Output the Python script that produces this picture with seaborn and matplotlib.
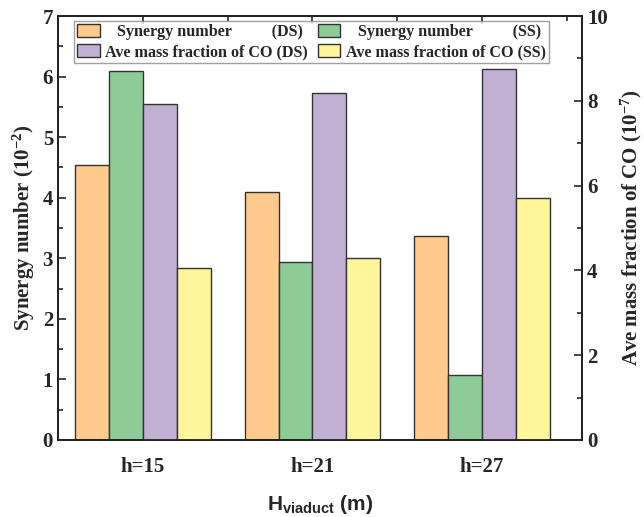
import pandas as pd
import matplotlib
matplotlib.use("Agg")
import matplotlib.pyplot as plt
import seaborn as sns
from matplotlib.ticker import MultipleLocator
from matplotlib.patches import Patch

# values
heights = ["h=15", "h=21", "h=27"]
synergy_ds = [4.54, 4.09, 3.37]
synergy_ss = [6.10, 2.94, 1.07]
co_ds = [7.93, 8.18, 8.75]
co_ss = [4.06, 4.29, 5.71]

labels = ["   Synergy number            (DS)", "   Synergy number            (SS)",
          "Ave mass fraction of CO (DS)", "Ave mass fraction of CO (SS)"]
colors = ["#FFCA8C", "#8DCB97", "#C2AFD4", "#FFF59B"]

syn = pd.DataFrame({
    "h": heights * 2,
    "value": synergy_ds + synergy_ss,
    "series": [labels[0]] * 3 + [labels[1]] * 3,
})
co = pd.DataFrame({
    "h": heights * 2,
    "value": co_ds + co_ss,
    "series": [labels[2]] * 3 + [labels[3]] * 3,
})

sns.set_style("white")
plt.rcParams["font.family"] = ["Liberation Serif", "DejaVu Serif"]
plt.rcParams["font.weight"] = "bold"
plt.rcParams["axes.labelweight"] = "bold"
plt.rcParams["mathtext.default"] = "regular"

fig = plt.figure(figsize=(6.44, 5.17), dpi=100)
ax = fig.add_axes([0.090, 0.149, 0.814, 0.820])
ax2 = ax.twinx()

pal = dict(zip(labels, colors))
sns.barplot(data=syn, x="h", y="value", hue="series", hue_order=labels,
            palette=pal, order=heights, width=0.8, ax=ax, saturation=1,
            edgecolor="#333333", linewidth=1.0, legend=False)
sns.barplot(data=co, x="h", y="value", hue="series", hue_order=labels,
            palette=pal, order=heights, width=0.8, ax=ax2, saturation=1,
            edgecolor="#333333", linewidth=1.0, legend=False)

ax.set_xlim(-0.5, 2.59)
ax.set_ylim(0, 7)
ax2.set_ylim(0, 10)
ax.yaxis.set_major_locator(MultipleLocator(1))
ax.yaxis.set_minor_locator(MultipleLocator(0.5))
ax2.yaxis.set_major_locator(MultipleLocator(2))
ax2.yaxis.set_minor_locator(MultipleLocator(1))
ax.xaxis.set_minor_locator(MultipleLocator(0.5))

ax.tick_params(axis="both", which="both", direction="in", top=True, labelsize=15)
ax.tick_params(which="major", length=6, width=1.2)
ax.tick_params(which="minor", length=3.5, width=1.2)
ax.tick_params(axis="x", which="major", pad=12)
ax2.tick_params(axis="y", which="both", direction="in", labelsize=15, width=1.2)
ax2.tick_params(which="major", length=6)
ax2.tick_params(which="minor", length=3.5)
for a in (ax, ax2):
    for s in a.spines.values():
        s.set_linewidth(1.3)
        s.set_color("#222222")

ax.set_ylabel("Synergy number (10$^{-2}$)", fontsize=15, labelpad=4)
ax2.set_ylabel("Ave mass fraction of CO (10$^{-7}$)", fontsize=15, labelpad=8)
ax.set_xlabel("H$_{viaduct}$ (m)", fontsize=15, labelpad=12,
              family="Liberation Sans")

# legend filled row by row: synergy on top row, CO below
order = [0, 2, 1, 3]
handles = [Patch(facecolor=colors[i], edgecolor="#333333", linewidth=1.0) for i in order]
ax2.legend(handles, [labels[i].replace("            ", "          ") if i < 2 else labels[i] for i in order],
           ncol=2, loc="upper left", bbox_to_anchor=(74 / 644, 1 - 21 / 517),
           bbox_transform=fig.transFigure,
           frameon=True, fancybox=False, edgecolor="#888888",
           handlelength=1.4, handleheight=0.85, handletextpad=0.35,
           columnspacing=0.6, borderpad=0.2, labelspacing=0.25,
           borderaxespad=0, prop={"weight": "bold", "size": 11.6})

fig.savefig("out.png", dpi=100)
